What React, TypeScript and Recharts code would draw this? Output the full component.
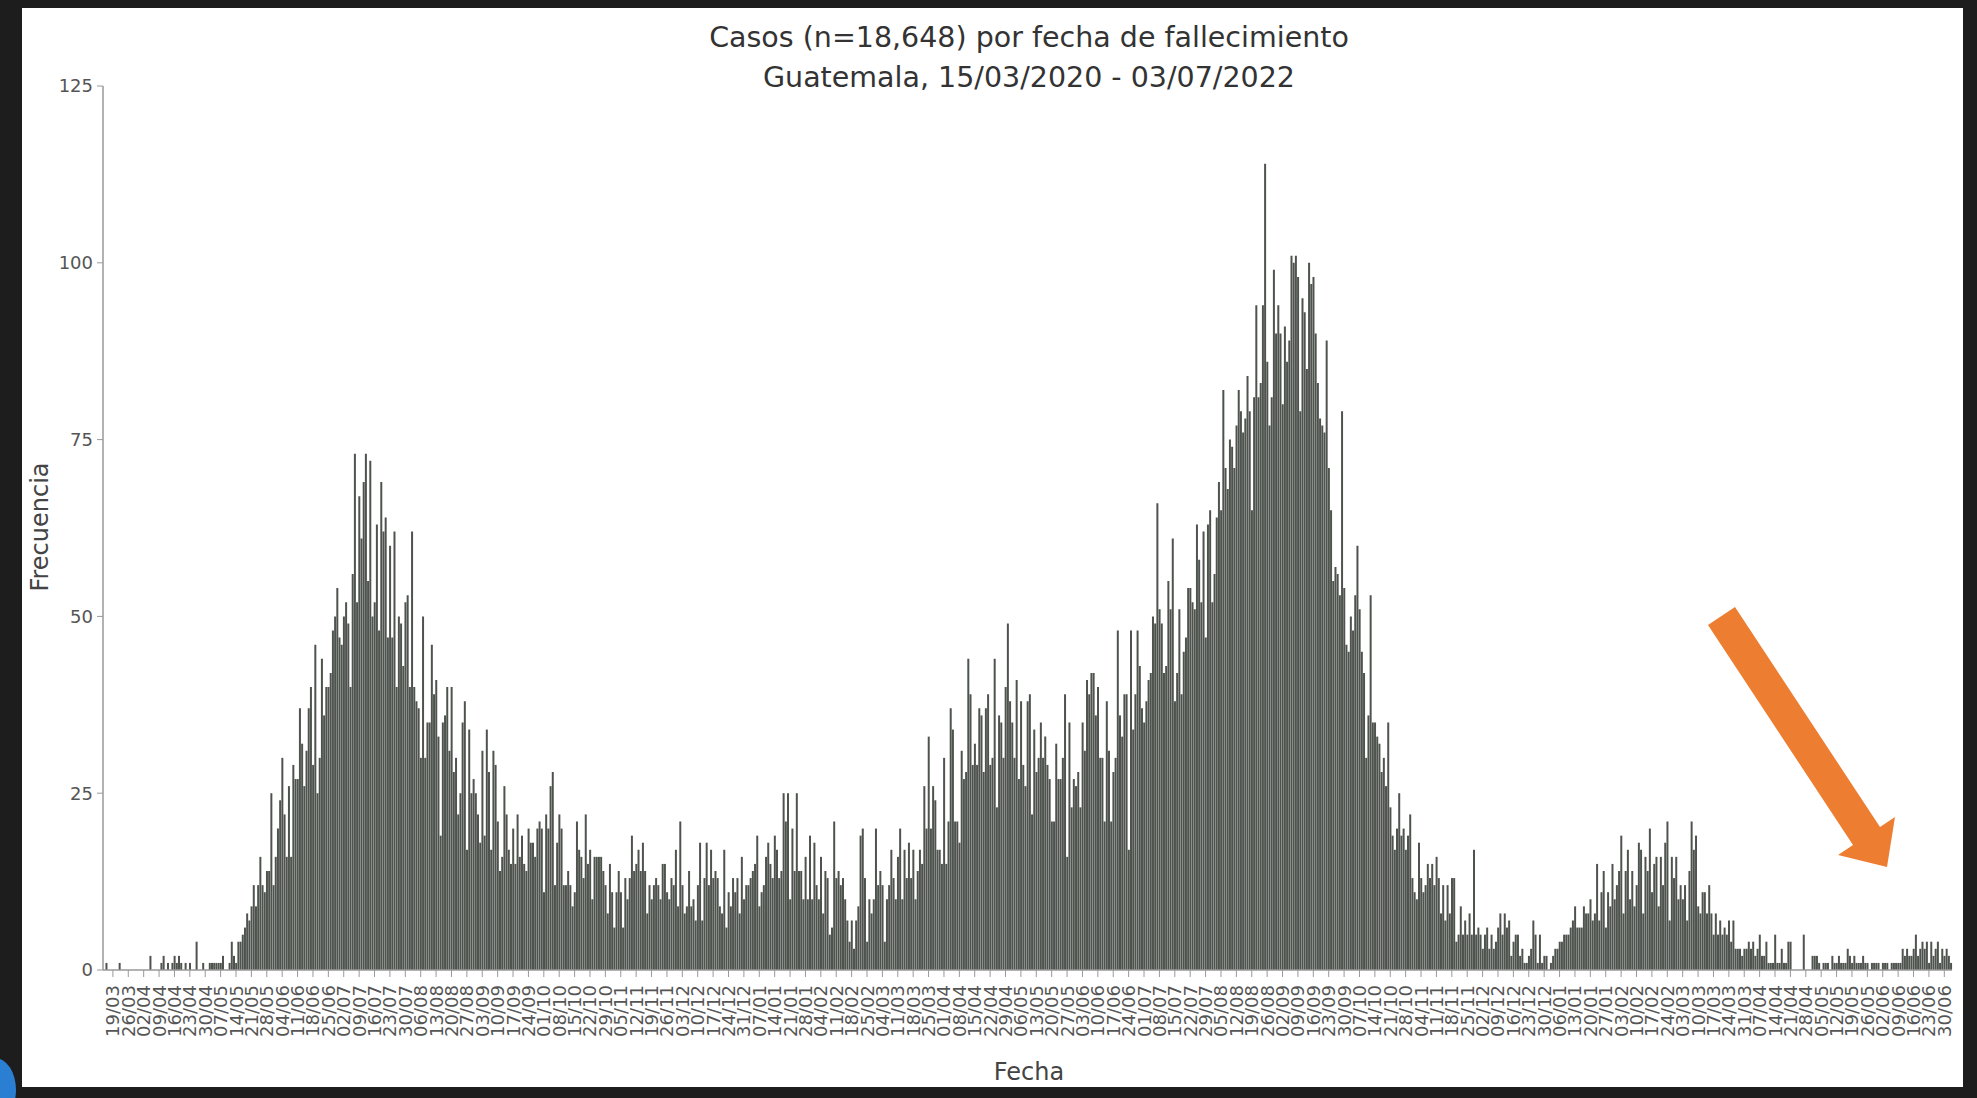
import React from 'react';
import { BarChart, Bar, XAxis, YAxis } from 'recharts';

// casos diarios por fecha de fallecimiento, a partir del 15/03/2020 (un valor por dia)
const casos2020a = [
  0, 1, 0, 0, 0, 0, 0,
  1, 0, 0, 0, 0, 0, 0,
  0, 0, 0, 0, 0, 0, 0,
  2, 0, 0, 0, 0, 1, 2,
  0, 1, 0, 1, 2, 1, 2,
  1, 0, 1, 0, 1, 0, 0,
  4, 0, 0, 1, 0, 0, 1,
  1, 1, 1, 1, 1, 2, 0,
  0, 1, 4, 2, 1, 4, 4,
  5, 6, 8, 7, 9, 12, 9,
  12, 16, 12, 11, 14, 14, 25,
  12, 16, 20, 24, 30, 22, 16,
  26, 16, 29, 27, 27, 37, 32,
  26, 31, 37, 40, 29, 46, 25,
  30, 44, 36, 40, 40, 42, 48,
];

const casos2020b = [
  50, 54, 47, 46, 50, 52, 49,
  40, 56, 73, 52, 67, 61, 69,
  73, 55, 72, 50, 52, 63, 48,
  69, 62, 64, 47, 60, 47, 62,
  40, 50, 49, 43, 52, 53, 40,
  62, 40, 38, 37, 30, 50, 30,
  35, 35, 46, 39, 41, 33, 19,
  35, 36, 40, 31, 40, 28, 30,
  22, 25, 35, 38, 17, 34, 25,
  27, 25, 22, 18, 31, 19, 34,
  28, 17, 31, 29, 21, 14, 16,
  26, 22, 17, 15, 20, 15, 22,
  16, 19, 15, 14, 20, 18, 18,
  16, 20, 21, 20, 11, 22, 20,
  26, 28, 12, 18, 22, 20, 12,
];

const casos2020c = [
  12, 14, 12, 9, 11, 21, 17, 16, 13, 22,
  15, 17, 10, 16, 16, 16, 16, 14, 12, 8,
  15, 11, 6, 11, 14, 11, 6, 13, 10, 13,
  19, 14, 15, 17, 14, 18, 14, 8, 12, 10,
  12, 13, 12, 10, 15, 15, 11, 10, 13, 12,
  17, 9, 21, 12, 8, 9, 14, 9, 10, 7,
  12, 18, 7, 13, 18, 12, 17, 13, 14, 13,
  9, 8, 17, 6, 11, 9, 13, 11, 13, 8,
  16, 10, 12, 12, 13, 14, 15, 19, 9, 11,
  12, 16, 18, 15, 13, 19, 17, 13, 14, 25,
];

const casos2021a = [
  21, 25, 10, 20, 14, 25, 14, 14, 10, 16,
  10, 19, 10, 18, 12, 10, 16, 8, 14, 13,
  5, 6, 21, 13, 14, 12, 13, 10, 7, 4,
  7, 3,
  7, 9, 19, 20, 13, 4, 10, 8, 10, 20,
  12, 14, 12, 4, 10, 12, 17, 13, 10, 16,
  20, 10, 17, 13, 18, 13, 17, 10, 14, 17,
  15, 26, 20, 33, 20, 26, 24, 17, 17, 15,
  30, 15, 21, 37, 34, 21, 21, 18, 31, 27,
  28, 44, 39, 29, 32, 29, 37, 36, 28, 37,
  39, 29, 30, 44, 23, 36, 35, 30, 40, 49,
  38, 35, 30, 41, 27, 38, 29, 26, 38,
];

const casos2021b = [
  39, 22, 34, 28, 30, 35, 30, 33, 29, 27, 21,
  21, 32, 27, 27, 30, 39, 16, 35, 23, 27,
  26, 28, 23, 35, 31, 41, 39, 42, 42, 36,
  40, 30, 30, 21, 38, 31,
  21, 28, 30, 48, 36,
  33, 39, 39, 17, 48, 34, 39, 48, 43, 37,
  35, 38, 41, 42, 50, 49, 66, 51, 49, 42,
  43, 55, 51, 61, 38, 42, 51, 39, 45, 47,
  54, 54, 52, 51, 63, 58,
  52, 62, 47, 63, 65,
  52, 56, 64, 69, 65, 82, 71, 68, 75, 74,
  71, 77, 82, 79, 76, 78,
  84, 79, 65, 81, 94,
];

const casos2021c = [
  81, 83, 94, 114, 86, 77, 81, 99, 90, 94,
  90, 80, 91, 86, 89, 101, 100, 101, 98, 79,
  95, 93, 85, 100, 97, 98, 90, 83, 78, 77,
  76, 89, 71, 65, 55, 57, 56, 53, 79, 54,
  46, 45, 50, 48, 53, 60, 51, 45, 42, 30, 36,
  53, 35, 35, 33, 32, 28, 30, 26, 35, 23,
  19, 17, 20, 25, 19, 20, 17, 19, 22, 13,
  11, 10, 18, 13, 11, 12, 15, 13, 15, 12,
  16, 13, 8, 12, 7, 12, 8, 13, 13, 4,
  5, 9, 5, 7, 5, 8, 5, 17,
];

const casos2022a = [
  5, 6, 5, 3, 5, 6, 3, 5, 3, 4,
  6, 8, 5, 8, 6, 7, 2, 4, 5, 5,
  2, 3, 1, 1, 2, 3, 7, 5, 1, 5,
  1, 2, 2, 0, 1, 2, 3, 3, 4, 4,
  5, 5, 5, 6, 7, 9, 6, 6, 6, 9,
  8, 8, 10, 7, 8,
  15, 7, 11, 14, 6, 11, 9, 15, 10, 12,
  14, 19, 8, 14, 17, 10, 14, 9, 12, 18,
  17, 8, 16, 14, 20, 11, 15, 16, 9, 16,
  12, 18, 21, 7, 16, 13, 16, 10, 12, 10,
  12, 7, 14, 21, 17, 19, 9, 8, 11, 11,
  8, 12, 8, 5, 8, 5, 7, 5, 6, 5, 7,
];

const casos2022b = [
  4, 7, 3, 3, 3, 2, 3, 3, 4, 3, 4, 2, 3, 5,
  2, 2, 4, 1, 1, 1, 5, 1, 1, 3, 1, 1, 4, 4,
  0, 0, 0, 0, 0, 5, 0, 0, 0,
  2, 2, 2, 1, 0, 1, 1, 1, 0, 2,
  1, 1, 2, 1, 1, 1, 3, 2, 1, 2,
  1, 1, 1, 2, 1, 1, 0, 1, 1, 1,
  1, 0, 1, 1, 1, 0, 1, 1, 1, 1,
  1,
  3, 2, 3, 2, 2, 3, 5, 2, 3, 4, 3, 4,
  1, 4, 2, 3, 4, 1, 3, 2, 3, 2, 1,
];

const yTicks = [0, 25, 50, 75, 100, 125];

const pad = (n: number) => String(n).padStart(2, '0');
const firstDay = Date.UTC(2020, 2, 15);

const counts = [
  ...casos2020a, ...casos2020b, ...casos2020c,
  ...casos2021a, ...casos2021b, ...casos2021c,
  ...casos2022a, ...casos2022b,
];

const data = counts.map((casos, i) => {
  const d = new Date(firstDay + i * 86400000);
  return {
    fecha: `${pad(d.getUTCDate())}/${pad(d.getUTCMonth() + 1)}/${d.getUTCFullYear()}`,
    casos,
  };
});

// one label per week, on thursdays (19/03/2020 ... 30/06/2022)
const weekTicks = data.filter((_, i) => i % 7 === 4).map((d) => d.fecha);

const font = '"DejaVu Sans", Verdana, sans-serif';

const DateTick = (props: any) => {
  const { x, y, payload } = props;
  return (
    <text
      x={x}
      y={y}
      transform={`rotate(-90, ${x}, ${y})`}
      textAnchor="end"
      dominantBaseline="central"
      fontSize={18}
      fill="#555"
      fontFamily={font}
    >
      {String(payload.value).slice(0, 5)}
    </text>
  );
};

export default function App() {
  return (
    <div
      style={{
        position: 'absolute',
        left: 0,
        top: 0,
        width: 1977,
        height: 1098,
        background: '#1d1d1d',
        overflow: 'hidden',
        fontFamily: font,
      }}
    >
      <div style={{ position: 'absolute', left: 22, top: 8, width: 1941, height: 1079, background: '#ffffff' }}>
        <BarChart
          width={1941}
          height={1079}
          data={data}
          margin={{ top: 78, right: 11, bottom: 0, left: 0 }}
          barCategoryGap="12%"
        >
          <XAxis
            dataKey="fecha"
            ticks={weekTicks}
            interval={0}
            height={117}
            tickSize={7}
            tickMargin={8}
            tick={<DateTick />}
            axisLine={{ stroke: '#999', strokeWidth: 1.5 }}
            tickLine={{ stroke: '#999' }}
          />
          <YAxis
            width={81}
            domain={[0, 125]}
            ticks={yTicks}
            tickSize={6}
            tickMargin={4}
            tick={{ fontSize: 18, fill: '#555', fontFamily: font }}
            axisLine={{ stroke: '#999', strokeWidth: 1.5 }}
            tickLine={{ stroke: '#999' }}
          />
          <Bar dataKey="casos" fill="#4e534e" isAnimationActive={false} />
        </BarChart>
      </div>

      <svg
        width={1977}
        height={1098}
        style={{ position: 'absolute', left: 0, top: 0, pointerEvents: 'none' }}
      >
        <text x={1029} y={47} textAnchor="middle" fontSize={28.5} fill="#333" fontFamily={font}>
          Casos (n=18,648) por fecha de fallecimiento
        </text>
        <text x={1029} y={87} textAnchor="middle" fontSize={28.5} fill="#333" fontFamily={font}>
          Guatemala, 15/03/2020 - 03/07/2022
        </text>
        <text
          transform="translate(48, 527) rotate(-90)"
          textAnchor="middle"
          fontSize={24}
          fill="#444"
          fontFamily={font}
        >
          Frecuencia
        </text>
        <text x={1029} y={1080} textAnchor="middle" fontSize={24} fill="#444" fontFamily={font}>
          Fecha
        </text>
        <polygon
          points="1708,625 1735,607 1880,827 1895,817 1887,867 1838,855 1853,845"
          fill="#ED7D31"
        />
      </svg>

      <div
        style={{
          position: 'absolute',
          left: -26,
          top: 1058,
          width: 42,
          height: 64,
          borderRadius: '50%',
          background: '#2b7fd2',
        }}
      />
    </div>
  );
}
